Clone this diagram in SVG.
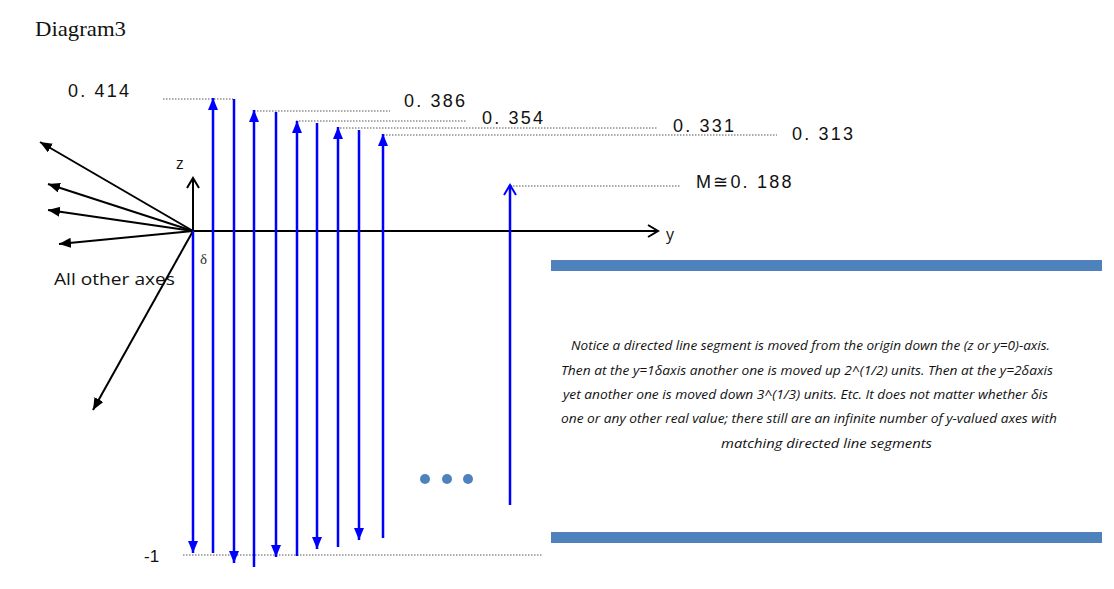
<svg xmlns="http://www.w3.org/2000/svg" width="1114" height="589" viewBox="0 0 1114 589">
<style>
.blue{stroke:#0000ff;stroke-width:2.5;fill:none}
.blk{stroke:#000;stroke-width:2;fill:none}
.dot{stroke:#555;stroke-width:1;stroke-dasharray:1.5,1.5;fill:none}
.num{font-family:"Liberation Sans",Arial,sans-serif;font-size:18px;letter-spacing:2.2px;fill:#111}
.para{font-family:"Open Sans","Liberation Sans",sans-serif;font-style:italic;font-size:13px;fill:#111}
.bar{fill:#4f81bd}
</style>
<defs>
<marker id="bh" markerUnits="userSpaceOnUse" markerWidth="14" markerHeight="12" refX="12" refY="5" orient="auto"><path d="M0,0 L12,5 L0,10 z" fill="#0000ff"/></marker>
<marker id="bo" markerUnits="userSpaceOnUse" markerWidth="14" markerHeight="16" refX="11" refY="7" orient="auto"><path d="M1,1 L11,7 L1,13" fill="none" stroke="#0000ff" stroke-width="2"/></marker>
<marker id="kh" markerUnits="userSpaceOnUse" markerWidth="14" markerHeight="12" refX="12" refY="5" orient="auto"><path d="M0,0 L12,5 L0,10 z" fill="#000"/></marker>
<marker id="ko" markerUnits="userSpaceOnUse" markerWidth="14" markerHeight="16" refX="11" refY="7" orient="auto"><path d="M1,1 L11,7 L1,13" fill="none" stroke="#000" stroke-width="2"/></marker>
</defs>
<rect width="1114" height="589" fill="#fff"/>
<text x="35" y="36" font-family="Liberation Serif,serif" font-size="22" fill="#111" textLength="91" lengthAdjust="spacingAndGlyphs">Diagram3</text>

<g id="guides">
<line class="dot" x1="163" y1="99" x2="233" y2="99"/>
<line class="dot" x1="254" y1="111" x2="390" y2="111"/>
<line class="dot" x1="296" y1="121" x2="467" y2="121"/>
<line class="dot" x1="337" y1="128" x2="658" y2="128"/>
<line class="dot" x1="383" y1="135" x2="777" y2="135"/>
<line class="dot" x1="510" y1="186" x2="680" y2="186"/>
<line class="dot" x1="183" y1="555" x2="543" y2="555"/>
</g>

<g id="labels">
<text class="num" x="68" y="97">0. 414</text>
<text class="num" x="404" y="107">0. 386</text>
<text class="num" x="482" y="124">0. 354</text>
<text class="num" x="673" y="132">0. 331</text>
<text class="num" x="792" y="140">0. 313</text>
<text class="num" x="696" y="188" letter-spacing="1px">M≅<tspan letter-spacing="2.2px">0. 188</tspan></text>
<text x="144" y="562" font-family="Liberation Sans,Arial,sans-serif" font-size="17" fill="#111">-1</text>
<text x="176" y="169" font-family="Open Sans,Liberation Sans,sans-serif" font-size="16" fill="#111">z</text>
<text x="666" y="240" font-family="Open Sans,Liberation Sans,sans-serif" font-size="16" fill="#111">y</text>
<text x="200" y="264" font-family="Liberation Serif,serif" font-size="15" fill="#333">δ</text>
<text x="54" y="285" font-family="Open Sans,Liberation Sans,sans-serif" font-size="16.5" fill="#111" textLength="121" lengthAdjust="spacingAndGlyphs">All other axes</text>
</g>

<g id="connectors">
<g id="axes">
<line class="blk" x1="193" y1="231" x2="658" y2="231" marker-end="url(#ko)"/>
<line class="blk" x1="193" y1="231" x2="193" y2="178" marker-end="url(#ko)"/>
<line class="blk" x1="193" y1="231" x2="40" y2="142" marker-end="url(#kh)"/>
<line class="blk" x1="193" y1="231" x2="48" y2="184" marker-end="url(#kh)"/>
<line class="blk" x1="193" y1="231" x2="48" y2="210" marker-end="url(#kh)"/>
<line class="blk" x1="193" y1="231" x2="59" y2="244" marker-end="url(#kh)"/>
<line class="blk" x1="193" y1="231" x2="93" y2="410" marker-end="url(#kh)"/>
</g>
<g id="segments">
<line class="blue" x1="193" y1="231" x2="193" y2="553" marker-end="url(#bh)"/>
<line class="blue" x1="213" y1="553" x2="213" y2="98" marker-end="url(#bh)"/>
<line class="blue" x1="234" y1="99" x2="234" y2="563" marker-end="url(#bh)"/>
<line class="blue" x1="254" y1="567" x2="254" y2="110" marker-end="url(#bh)"/>
<line class="blue" x1="276" y1="112" x2="276" y2="557" marker-end="url(#bh)"/>
<line class="blue" x1="297" y1="556" x2="297" y2="121" marker-end="url(#bh)"/>
<line class="blue" x1="317" y1="123" x2="317" y2="549" marker-end="url(#bh)"/>
<line class="blue" x1="338" y1="547" x2="338" y2="127" marker-end="url(#bh)"/>
<line class="blue" x1="359" y1="130" x2="359" y2="540" marker-end="url(#bh)"/>
<line class="blue" x1="383" y1="538" x2="383" y2="134" marker-end="url(#bh)"/>
<line class="blue" x1="510" y1="505" x2="510" y2="185" marker-end="url(#bo)"/>
</g>
</g>

<g id="ellipsis">
<circle class="bar" cx="425" cy="479" r="5"/>
<circle class="bar" cx="447" cy="479" r="5"/>
<circle class="bar" cx="468" cy="479" r="5"/>
</g>

<g id="note">
<rect class="bar" x="551" y="260" width="551" height="11"/>
<rect class="bar" x="551" y="532" width="551" height="11"/>
<text class="para" x="571" y="350" textLength="479" lengthAdjust="spacingAndGlyphs">Notice a directed line segment is moved from the origin down the (z or y=0)-axis.</text>
<text class="para" x="561" y="375" textLength="492" lengthAdjust="spacingAndGlyphs">Then at the y=1δaxis another one is moved up 2^(1/2) units. Then at the y=2δaxis</text>
<text class="para" x="563" y="399" textLength="485" lengthAdjust="spacingAndGlyphs">yet another one is moved down 3^(1/3) units. Etc. It does not matter whether δis</text>
<text class="para" x="561" y="423" textLength="496" lengthAdjust="spacingAndGlyphs">one or any other real value; there still are an infinite number of y-valued axes with</text>
<text class="para" x="721" y="448" textLength="211" lengthAdjust="spacingAndGlyphs">matching directed line segments</text>
</g>
</svg>
